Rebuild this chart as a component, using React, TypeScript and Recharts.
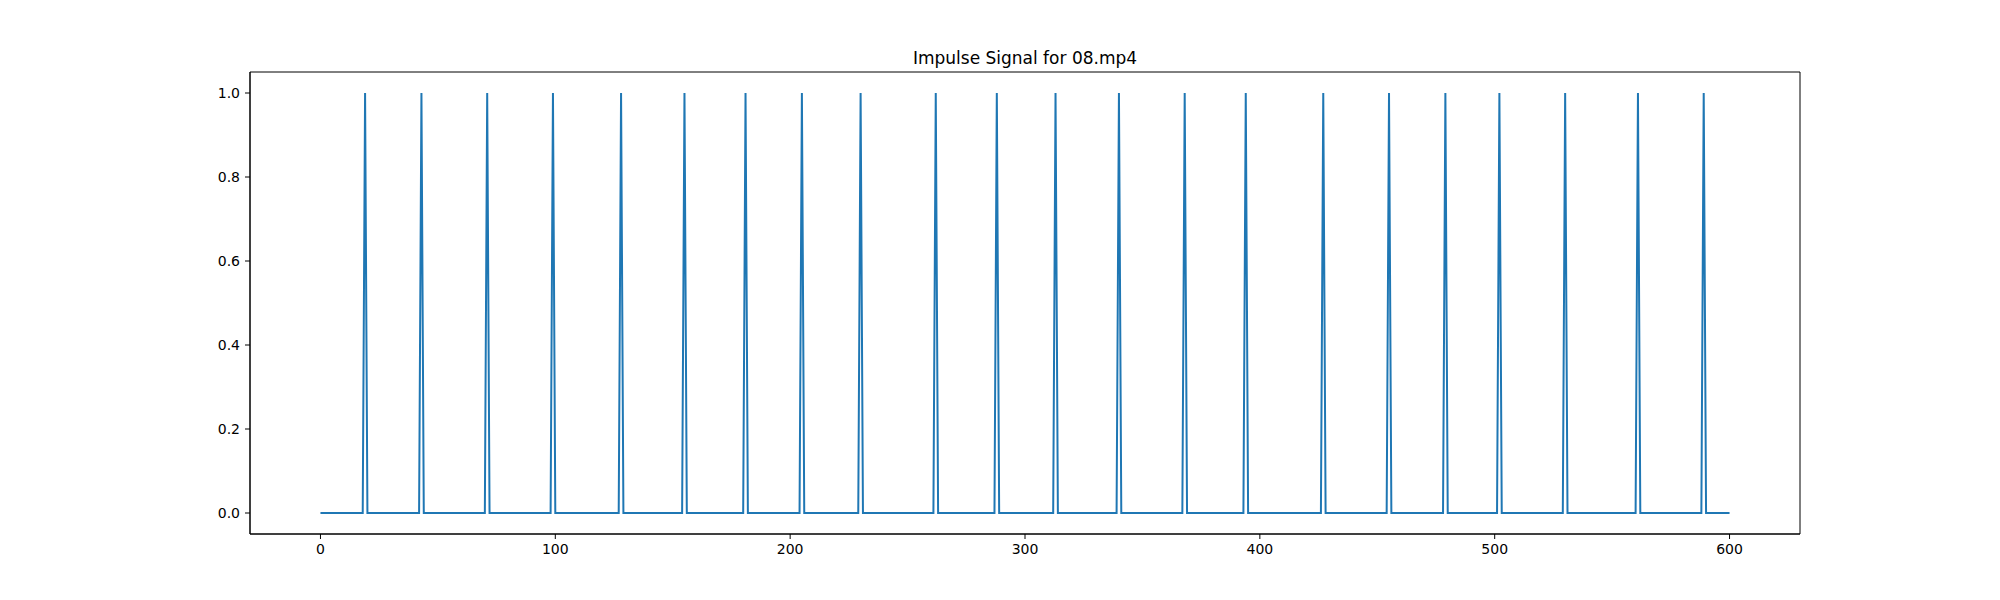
import React from "react";
import { LineChart, Line, XAxis, YAxis, ReferenceArea } from "recharts";

// frames (0..600) where the impulse signal is 1
const impulseFrames = [
  19, 43, 71, 99, 128, 155, 181, 205, 230, 262, 288, 313, 340, 368, 394, 427,
  455, 479, 502, 530, 561, 589,
];
const frameCount = 601;
const xTicks = [0, 100, 200, 300, 400, 500, 600];
const yTicks = [0, 0.2, 0.4, 0.6, 0.8, 1.0];
const xDomain = [-30, 630];
const yDomain = [-0.05, 1.05];

const hits = new Set(impulseFrames);
const data = Array.from({ length: frameCount }, (_, i) => ({
  frame: i,
  value: hits.has(i) ? 1 : 0,
}));

const FONT = "'DejaVu Sans', sans-serif";
const tickStyle = { fontSize: 14, fill: "#000", fontFamily: FONT };

export default function App() {
  return (
    <div style={{ position: "absolute", left: 0, top: 0, width: 2000, height: 600, background: "#fff" }}>
      <div
        style={{
          position: "absolute",
          top: 50,
          left: 250,
          width: 1550,
          textAlign: "center",
          fontFamily: FONT,
          fontSize: 17,
          lineHeight: "17px",
          color: "#000",
        }}
      >
        Impulse Signal for 08.mp4
      </div>
      <LineChart
        width={2000}
        height={600}
        data={data}
        margin={{ top: 72, right: 200, bottom: 0, left: 0 }}
      >
        <XAxis
          type="number"
          dataKey="frame"
          domain={xDomain}
          ticks={xTicks}
          allowDataOverflow
          height={66}
          tickSize={5}
          tickMargin={5}
          tick={tickStyle}
          stroke="#000"
          tickLine={{ stroke: "#000" }}
          axisLine={{ stroke: "#000" }}
        />
        <YAxis
          type="number"
          domain={yDomain}
          ticks={yTicks}
          allowDataOverflow
          width={250}
          tickSize={5}
          tickMargin={5}
          tick={tickStyle}
          tickFormatter={(v: number) => v.toFixed(1)}
          stroke="#000"
          tickLine={{ stroke: "#000" }}
          axisLine={{ stroke: "#000" }}
        />
        {/* axes frame, like matplotlib's spines */}
        <ReferenceArea
          x1={xDomain[0]}
          x2={xDomain[1]}
          y1={yDomain[0]}
          y2={yDomain[1]}
          fill="none"
          stroke="#000"
          strokeWidth={1}
          ifOverflow="visible"
        />
        <Line
          type="linear"
          dataKey="value"
          stroke="#1f77b4"
          strokeWidth={2}
          dot={false}
          activeDot={false}
          isAnimationActive={false}
        />
      </LineChart>
    </div>
  );
}
